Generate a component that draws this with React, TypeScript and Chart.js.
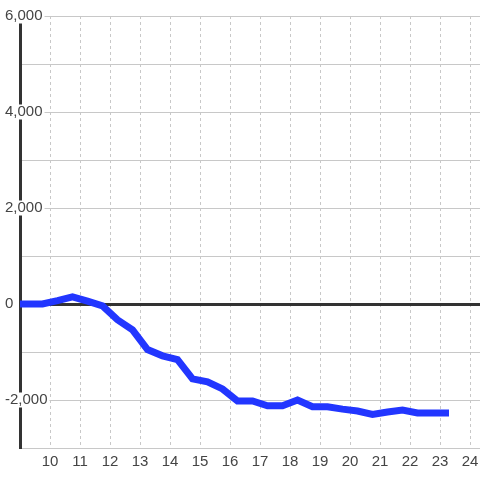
import React, { useEffect, useRef } from "react";
import { Chart, registerables } from "chart.js";

Chart.register(...registerables);

// Time of day (hours, decimal) and cumulative value
const times = [
  8.75, 9.75, 10.25, 10.75, 11.25, 11.75, 12.25, 12.75, 13.25, 13.75,
  14.25, 14.75, 15.25, 15.75, 16.25, 16.75, 17.25, 17.75, 18.25, 18.75,
  19.25, 19.75, 20.25, 20.75, 21.25, 21.75, 22.25, 22.75, 23.3,
];
const values = [
  0, 0, 70, 150, 60, -40, -330, -540, -950, -1080,
  -1160, -1560, -1620, -1770, -2020, -2020, -2120, -2120, -2000, -2140,
  -2140, -2190, -2230, -2300, -2250, -2210, -2270, -2270, -2270,
];
const xMin = 9;
const xMax = 24.333;
const yMin = -3000;
const yMax = 6000;

export default function App() {
  const ref = useRef<HTMLCanvasElement | null>(null);

  useEffect(() => {
    if (!ref.current) return;
    const font = { family: "'Liberation Sans', Arial, sans-serif", size: 15, lineHeight: 1 };
    const chart = new Chart(ref.current, {
      type: "line",
      data: {
        datasets: [
          {
            data: times.map((t, i) => ({ x: t, y: values[i] })),
            borderColor: "#2236ff",
            borderWidth: 7,
            pointRadius: 0,
            tension: 0,
            fill: false,
          },
        ],
      },
      options: {
        animation: false,
        responsive: true,
        maintainAspectRatio: false,
        layout: { padding: { top: 16, left: 0, right: 0, bottom: 0 } },
        plugins: { legend: { display: false }, tooltip: { enabled: false } },
        scales: {
          x: {
            type: "linear",
            min: xMin,
            max: xMax,
            afterFit: (s: any) => {
              s.height = 32;
              s.paddingRight = 0;
              s.paddingLeft = 0;
            },
            ticks: {
              stepSize: 1,
              includeBounds: false,
              padding: 6,
              color: "#444",
              font,
              maxRotation: 0,
              autoSkip: false,
              callback: (v: any) => (Number.isInteger(v) && v >= 10 ? String(v) : ""),
            },
            grid: {
              color: "#c8c8c8",
              lineWidth: 1,
              drawTicks: false,
            },
            border: { display: false, dash: [3, 3] },
          },
          y: {
            min: yMin,
            max: yMax,
            afterFit: (s: any) => {
              s.width = 20;
            },
            ticks: {
              stepSize: 1000,
              mirror: true,
              padding: -15,
              color: "#444",
              font,
              autoSkip: false,
              showLabelBackdrop: true,
              backdropPadding: { left: 1, right: 2, top: 0, bottom: 0 },
              backdropColor: (ctx: any) =>
                ctx.tick && ctx.tick.value % 2000 === 0 ? "#ffffff" : "rgba(0,0,0,0)",
              callback: (v: any) => (v % 2000 === 0 ? Number(v).toLocaleString("en-US") : ""),
            },
            grid: {
              color: (ctx: any) => (ctx.tick && ctx.tick.value === 0 ? "#333333" : "#c8c8c8"),
              lineWidth: (ctx: any) => (ctx.tick && ctx.tick.value === 0 ? 3 : 1),
              drawTicks: false,
            },
            border: { display: true, color: "#333333", width: 3 },
          },
        },
      },
    });
    return () => chart.destroy();
  }, []);

  return (
    <div style={{ position: "absolute", left: 0, top: 0, width: 480, height: 480, background: "#fff" }}>
      <canvas ref={ref} />
    </div>
  );
}
